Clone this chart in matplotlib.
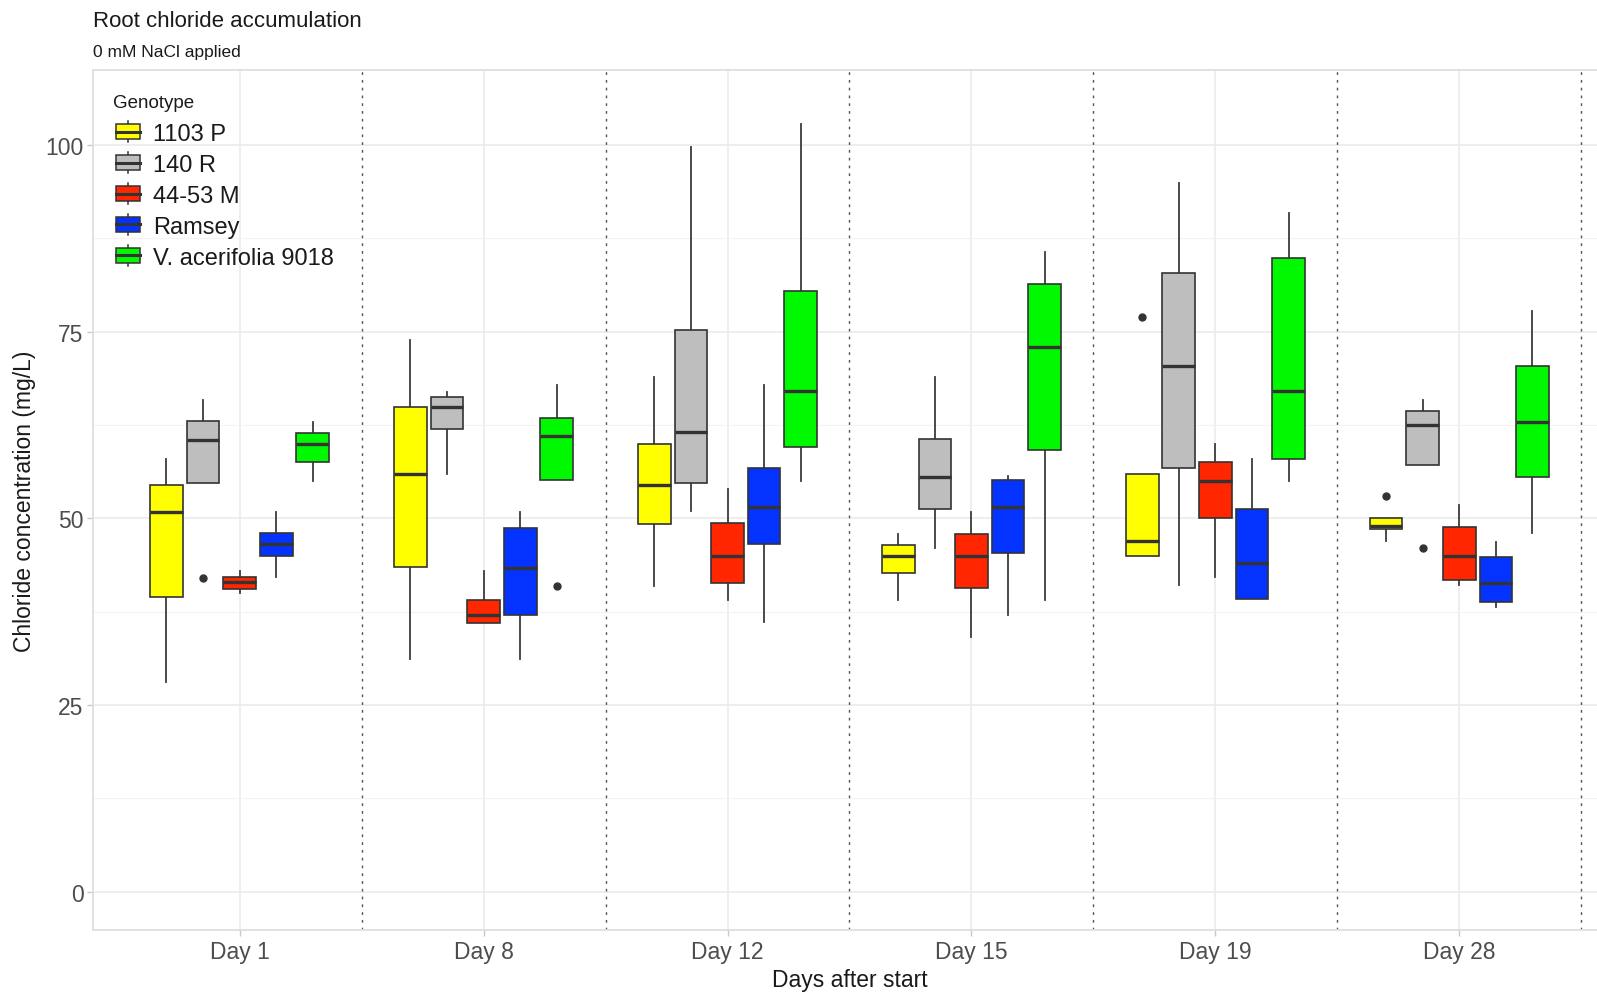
import numpy as np
import matplotlib
matplotlib.use("Agg")
import matplotlib.pyplot as plt
from matplotlib.patches import Patch, Rectangle
from matplotlib.lines import Line2D
from matplotlib.legend_handler import HandlerBase

plt.rcParams['font.family'] = ['Liberation Sans', 'DejaVu Sans']

days = ["Day 1", "Day 8", "Day 12", "Day 15", "Day 19", "Day 28"]
genotypes = ["1103 P", "140 R", "44-53 M", "Ramsey", "V. acerifolia 9018"]
colors = ["#FFFF00", "#BEBEBE", "#FF2600", "#0433FF", "#00F900"]

# box statistics, one row per genotype, one column per day
whislo = [[28.1, 31.1, 41.0, 39.1, 45.0, 47.0],
          [54.7, 56.0, 51.0, 46.0, 41.1, 57.2],
          [40.0, 36.0, 39.1, 34.1, 42.1, 41.1],
          [42.1, 31.1, 36.1, 37.1, 39.2, 38.1],
          [55.0, 55.2, 55.0, 39.1, 55.0, 48.0]]
q1 = [[39.5, 43.5, 49.2, 42.7, 45.0, 48.6],
      [54.7, 62.0, 54.7, 51.3, 56.7, 57.2],
      [40.6, 36.0, 41.3, 40.7, 50.1, 41.7],
      [45.0, 37.1, 46.6, 45.4, 39.2, 38.8],
      [57.5, 55.2, 59.5, 59.2, 57.9, 55.5]]
med = [[50.9, 56.0, 54.5, 44.9, 47.0, 49.0],
       [60.5, 64.9, 61.5, 55.5, 70.4, 62.5],
       [41.5, 37.1, 45.0, 44.9, 55.0, 45.0],
       [46.5, 43.4, 51.5, 51.5, 44.0, 41.4],
       [60.0, 61.0, 67.0, 73.0, 67.0, 62.9]]
q3 = [[54.5, 64.9, 60.0, 46.4, 55.9, 50.0],
      [63.0, 66.2, 75.2, 60.6, 82.9, 64.4],
      [42.2, 39.1, 49.4, 47.9, 57.6, 48.9],
      [48.0, 48.7, 56.7, 55.2, 51.3, 44.8],
      [61.4, 63.4, 80.4, 81.4, 84.9, 70.4]]
whishi = [[57.9, 73.9, 68.9, 47.9, 55.9, 50.0],
          [65.9, 66.9, 99.8, 68.9, 94.9, 65.9],
          [42.9, 42.9, 53.9, 50.8, 59.9, 51.8],
          [50.9, 50.9, 67.9, 55.7, 57.9, 46.8],
          [62.9, 67.9, 102.8, 85.7, 90.9, 77.8]]
# (genotype index, day index, value)
outliers = [(1, 0, 42.0), (4, 1, 41.0), (0, 4, 76.9), (0, 5, 53.0), (1, 5, 46.0)]


class BoxKey(HandlerBase):
    # small boxplot glyph for the legend keys
    def create_artists(self, legend, orig_handle, xdescent, ydescent,
                       width, height, fontsize, trans):
        x0, y0 = -xdescent, -ydescent
        cx = x0 + width / 2
        bh = height * 0.68
        by = y0 + (height - bh) / 2
        ec = "#333333"
        top = Line2D([cx, cx], [by + bh, y0 + height], color=ec, lw=1.1, transform=trans)
        bot = Line2D([cx, cx], [y0, by], color=ec, lw=1.1, transform=trans)
        box = Rectangle((x0, by), width, bh, facecolor=orig_handle.get_facecolor(),
                        edgecolor=ec, lw=1.1, transform=trans)
        mid = Line2D([x0, x0 + width], [by + bh / 2] * 2, color=ec, lw=2.2, transform=trans)
        return [top, bot, box, mid]


fig = plt.figure(figsize=(15.97, 9.95), dpi=100)
ax = fig.add_axes([0.05842, 0.06462, 0.9470, 0.86402])

offsets = np.array([-0.3, -0.15, 0.0, 0.15, 0.3])
box_w = 0.134
ec = "#333333"

for g in range(len(genotypes)):
    stats = []
    for d in range(len(days)):
        fl = [v for (gi, di, v) in outliers if gi == g and di == d]
        stats.append(dict(whislo=whislo[g][d], q1=q1[g][d], med=med[g][d],
                          q3=q3[g][d], whishi=whishi[g][d], fliers=fl))
    pos = np.arange(1, len(days) + 1) + offsets[g]
    art = ax.bxp(stats, positions=pos, widths=box_w, patch_artist=True,
                 showcaps=False, manage_ticks=False,
                 boxprops=dict(facecolor=colors[g], edgecolor=ec, linewidth=1.2),
                 medianprops=dict(color=ec, linewidth=2.4, solid_capstyle='butt'),
                 whiskerprops=dict(color="#3c3c3c", linewidth=1.3),
                 flierprops=dict(marker='o', markerfacecolor=ec, markeredgecolor=ec,
                                 markersize=5))
    for b in art['boxes']:
        b.set_zorder(3)
    for m in art['medians']:
        m.set_zorder(4)

for i in range(1, len(days) + 1):
    ax.axvline(i + 0.5, color="#555555", lw=1.0, ls=(0, (2, 3.6)), zorder=1.5)

ax.set_xlim(0.4, 6.6)
ax.set_ylim(-5.1, 110.05)
ax.set_xticks(range(1, len(days) + 1))
ax.set_xticklabels(days)
ax.set_yticks([0, 25, 50, 75, 100])
ax.set_yticks([12.5, 37.5, 62.5, 87.5], minor=True)
ax.grid(which='major', color="#ebebeb", lw=1.2)
ax.grid(which='minor', axis='y', color="#f3f3f3", lw=0.8)
ax.set_axisbelow(True)
ax.tick_params(which='major', length=4, width=1, color="#c8c8c8",
               labelsize=16.5, labelcolor="#4d4d4d")
ax.tick_params(axis='x', pad=3.5)
ax.tick_params(axis='y', pad=3)
ax.tick_params(which='minor', length=0)
for s in ax.spines.values():
    s.set_color("#dedede")
    s.set_linewidth(1.3)

ax.set_xlabel("Days after start", fontsize=16.5, color="#1a1a1a", labelpad=3.5)
ax.set_ylabel("Chloride concentration (mg/L)", fontsize=16.5, color="#1a1a1a", labelpad=7)

fig.text(0.0584, 1 - 27 / 995, "Root chloride accumulation", fontsize=16,
         color="#1a1a1a", va='baseline', ha='left')
fig.text(0.0584, 1 - 57 / 995, "0 mM NaCl applied", fontsize=12.5,
         color="#1a1a1a", va='baseline', ha='left')

# legend title placed on its own, keys listed underneath
fig.text(113 / 1597, 1 - 108 / 995, "Genotype", fontsize=13.5,
         color="#1a1a1a", va='baseline', ha='left')
handles = [Patch(facecolor=c) for c in colors]
leg = ax.legend(handles, genotypes, handler_map={Patch: BoxKey()},
                fontsize=17, loc='upper left',
                bbox_to_anchor=(116 / 1597, 1 - 122 / 995),
                bbox_transform=fig.transFigure, frameon=False, borderpad=0,
                borderaxespad=0, handlelength=1.02, handleheight=1.0,
                handletextpad=0.55, labelspacing=0.31)
for t in leg.get_texts():
    t.set_color("#1a1a1a")

fig.savefig("out.png", dpi=100)
